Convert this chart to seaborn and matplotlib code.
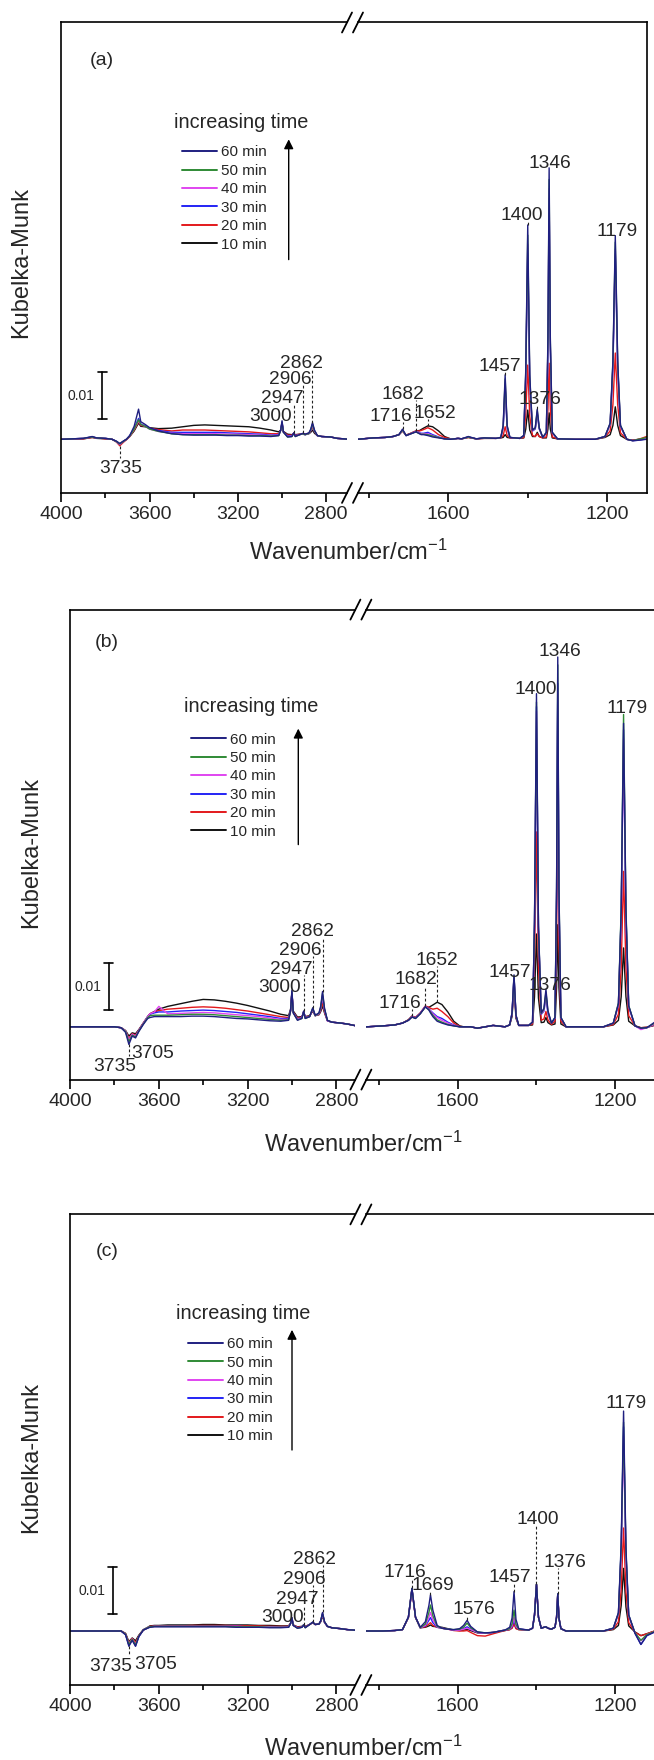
import numpy as np
import pandas as pd
import matplotlib
matplotlib.use("Agg")
import matplotlib.pyplot as plt
import seaborn as sns
from matplotlib.lines import Line2D
from matplotlib.transforms import blended_transform_factory

# ------------------------------------------------------------------ data
# wavenumber grids (cm-1) of the two displayed segments
WN_LEFT = [4000, 3900, 3860, 3840, 3800, 3770, 3750, 3735, 3720, 3705, 3690, 3670, 3650, 3640,
           3620, 3600, 3560, 3500, 3450, 3400, 3350, 3300, 3250, 3200, 3150, 3100, 3050, 3015,
           3006, 3000, 2994, 2975, 2955, 2947, 2940, 2920, 2906, 2895, 2878, 2870, 2862, 2853,
           2840, 2820, 2780, 2750, 2720, 2700]
WN_RIGHT = [1850, 1830, 1790, 1760, 1740, 1725, 1716, 1707, 1695, 1682, 1673, 1669, 1663, 1652,
            1640, 1625, 1610, 1595, 1585, 1576, 1567, 1550, 1530, 1510, 1480, 1468, 1462, 1457,
            1452, 1445, 1420, 1410, 1405, 1400, 1395, 1388, 1381, 1376, 1371, 1362, 1353, 1349,
            1346, 1343, 1338, 1325, 1280, 1230, 1205, 1192, 1185, 1179, 1173, 1166, 1150, 1135,
            1120, 1100]

TIMES = ["10 min", "20 min", "30 min", "40 min", "50 min", "60 min"]
COLORS = {"10 min": "#111111", "20 min": "#e3191c", "30 min": "#2424f5",
          "40 min": "#e045f0", "50 min": "#2f8a35", "60 min": "#1f1f80"}

KM_UNIT = 1e-4   # values below are Kubelka-Munk x 10^4

# ---- panel (a)
A_L_10 = [0, 1, 4, 2, 1, 0, -5, -10, -5, 0, 6, 18, 35, 28, 27, 25, 23, 24, 27, 30, 31, 30, 29, 28, 27, 24, 20, 16, 20, 33, 17, 11, 10, 12, 10, 11, 11, 10, 12, 15, 20, 13, 8, 6, 5, 2, 1, 0]
A_L_20 = [0, 1, 4, 3, 1, 0, -6, -14, -7, -1, 6, 20, 38, 30, 28, 24, 21, 18, 20, 20, 20, 19, 18, 17, 16, 14, 12, 12, 20, 35, 16, 9, 9, 13, 9, 11, 12, 11, 13, 18, 28, 16, 8, 6, 5, 2, 1, 0]
A_L_30 = [0, 2, 5, 3, 2, 0, -5, -11, -5, 0, 8, 24, 45, 33, 29, 24, 19, 15, 15, 15, 15, 15, 14, 13, 12, 11, 9, 10, 20, 37, 16, 7, 8, 13, 8, 10, 12, 10, 13, 19, 31, 17, 8, 6, 5, 2, 1, 0]
A_L_40 = [0, 2, 5, 3, 2, 0, -5, -11, -5, 0, 7, 22, 40, 32, 28, 22, 17, 13, 12, 12, 12, 12, 11, 11, 10, 9, 8, 9, 19, 36, 15, 6, 7, 13, 7, 10, 12, 10, 13, 19, 32, 18, 8, 6, 5, 2, 1, 0]
A_L_50 = [0, 2, 5, 3, 2, 0, -5, -10, -5, 0, 7, 22, 42, 32, 28, 22, 17, 12, 10, 10, 10, 10, 9, 9, 8, 8, 7, 8, 19, 37, 15, 5, 6, 13, 6, 10, 12, 10, 13, 20, 33, 18, 8, 6, 5, 2, 1, 0]
A_L_60 = [0, 2, 6, 3, 2, 0, -4, -9, -4, 0, 8, 28, 65, 38, 32, 25, 18, 12, 10, 9, 9, 9, 8, 8, 7, 7, 6, 8, 20, 40, 16, 5, 6, 14, 6, 10, 13, 11, 14, 22, 36, 20, 8, 6, 5, 2, 1, 0]

A_R_10 = [0, 0, 3, 4, 6, 10, 18, 9, 13, 18, 19, 21, 24, 29, 27, 18, 6, 1, 1, 2, 1, 4, 1, 2, 2, 3, 4, 10, 4, 3, 2, 3, 22, 63, 20, 6, 6, 15, 6, 3, 3, 22, 57, 22, 3, 1, 0, 0, 4, 10, 30, 70, 30, 8, 0, -2, 0, 2]
A_R_20 = [0, 0, 3, 4, 6, 10, 18, 9, 13, 18, 18, 19, 21, 25, 20, 10, 4, 1, 1, 2, 1, 4, 1, 2, 2, 3, 8, 27, 8, 3, 2, 4, 55, 160, 50, 8, 6, 12, 6, 3, 5, 65, 164, 65, 5, 1, 0, 0, 5, 18, 75, 186, 75, 14, 0, -2, 0, 6]
A_R_30 = [0, 0, 3, 4, 6, 10, 20, 8, 12, 17, 14, 13, 13, 15, 10, 5, 1, 0, 1, 2, 1, 5, 1, 3, 2, 4, 24, 112, 24, 4, 2, 8, 135, 400, 125, 18, 22, 55, 22, 4, 14, 195, 520, 195, 14, 1, 0, 0, 6, 32, 155, 400, 155, 28, 0, -3, -2, 1]
A_R_40 = [0, 0, 3, 4, 6, 10, 20, 8, 12, 17, 13, 12, 12, 12, 8, 4, 1, 0, 1, 2, 1, 5, 1, 3, 2, 4, 26, 122, 26, 4, 2, 8, 140, 420, 130, 19, 23, 58, 23, 4, 14, 200, 540, 200, 14, 1, 0, 0, 6, 32, 158, 410, 158, 28, 0, -3, -1, 2]
A_R_50 = [0, 0, 3, 4, 6, 10, 20, 8, 12, 16, 12, 11, 11, 10, 7, 4, 1, 0, 1, 2, 1, 5, 1, 3, 2, 4, 28, 130, 28, 4, 2, 8, 145, 440, 135, 20, 24, 62, 24, 4, 15, 210, 560, 210, 15, 1, 0, 0, 6, 34, 165, 425, 165, 30, 0, -3, 0, 4]
A_R_60 = [0, 0, 3, 4, 6, 10, 22, 8, 12, 16, 12, 10, 10, 8, 5, 3, 1, 0, 1, 2, 1, 6, 1, 3, 2, 4, 30, 139, 30, 4, 2, 8, 150, 462, 140, 20, 25, 65, 25, 4, 15, 220, 585, 220, 15, 1, 0, 0, 6, 35, 170, 439, 170, 30, 0, -3, -2, 0]

# ---- panel (b)
B_L_10 = [0, 0, 0, 0, 0, -2, -8, -20, -13, -15, -6, 8, 22, 28, 33, 38, 44, 50, 55, 59, 58, 55, 51, 46, 40, 34, 27, 24, 38, 73, 34, 21, 22, 31, 22, 24, 34, 24, 26, 33, 45, 30, 13, 10, 8, 6, 3, 1]
B_L_20 = [0, 0, 0, 0, 0, -2, -9, -25, -15, -18, -7, 8, 22, 28, 32, 35, 38, 40, 42, 43, 42, 40, 37, 34, 30, 26, 22, 20, 35, 74, 32, 19, 21, 32, 21, 23, 36, 24, 27, 36, 52, 32, 13, 10, 8, 6, 3, 1]
B_L_30 = [0, 0, 0, 0, 0, -2, -10, -30, -17, -21, -8, 7, 22, 27, 30, 32, 32, 34, 35, 36, 35, 33, 31, 28, 25, 22, 18, 18, 35, 75, 31, 17, 20, 33, 20, 22, 38, 24, 28, 40, 65, 36, 13, 10, 8, 6, 3, 1]
B_L_40 = [0, 0, 0, 0, 0, -2, -9, -28, -16, -20, -8, 7, 22, 28, 32, 44, 28, 29, 30, 31, 30, 28, 26, 24, 22, 19, 16, 16, 34, 75, 30, 16, 19, 33, 19, 22, 39, 24, 28, 40, 68, 36, 13, 10, 8, 6, 3, 1]
B_L_50 = [0, 0, 0, 0, 0, -2, -10, -32, -18, -22, -9, 6, 20, 24, 25, 25, 25, 26, 27, 27, 26, 24, 22, 20, 18, 16, 14, 15, 34, 76, 30, 15, 18, 33, 18, 22, 40, 24, 29, 42, 72, 38, 14, 10, 8, 6, 3, 1]
B_L_60 = [0, 0, 0, 0, 0, -2, -12, -38, -20, -24, -10, 5, 18, 20, 22, 22, 22, 22, 23, 23, 22, 20, 18, 17, 15, 13, 12, 14, 35, 79, 30, 14, 18, 34, 18, 22, 41, 25, 30, 45, 76, 40, 14, 10, 8, 6, 3, 1]

B_R_10 = [0, 0, 2, 4, 8, 15, 23, 20, 29, 43, 42, 44, 47, 53, 48, 32, 12, 2, 0, 0, 0, -3, 0, 3, 0, 4, 22, 85, 18, 3, 3, 4, 65, 200, 62, 9, 10, 20, 9, 4, 6, 85, 220, 85, 6, 0, 0, 0, 4, 14, 65, 170, 65, 12, 2, -2, -1, 3]
B_R_20 = [0, 0, 2, 4, 8, 15, 23, 20, 30, 45, 42, 40, 38, 40, 33, 22, 8, 1, 0, 0, 0, -3, 0, 3, 0, 4, 27, 100, 22, 3, 3, 6, 140, 420, 130, 14, 17, 33, 15, 5, 12, 180, 480, 180, 12, 0, 0, 0, 5, 27, 128, 335, 128, 24, 2, -2, -1, 4]
B_R_30 = [0, 0, 2, 4, 8, 14, 22, 19, 29, 44, 39, 35, 30, 22, 18, 10, 4, 0, 0, 0, 0, -3, 0, 3, 0, 4, 29, 108, 24, 3, 3, 10, 220, 690, 212, 27, 34, 65, 29, 8, 19, 280, 740, 280, 19, 0, 0, 0, 8, 48, 245, 640, 245, 44, 2, -4, -2, 6]
B_R_40 = [0, 0, 2, 4, 8, 14, 22, 19, 29, 44, 38, 34, 28, 20, 14, 8, 3, 0, 0, 0, 0, -3, 0, 3, 0, 4, 29, 108, 24, 3, 3, 10, 218, 680, 210, 28, 36, 70, 31, 8, 19, 275, 720, 275, 19, 0, 0, 0, 8, 48, 240, 620, 240, 43, 2, -6, -2, 6]
B_R_50 = [0, 0, 2, 4, 8, 14, 21, 18, 28, 43, 37, 32, 25, 15, 10, 5, 2, 0, 0, 0, 0, -3, 0, 3, 0, 4, 29, 110, 25, 3, 3, 10, 225, 700, 215, 29, 38, 75, 33, 8, 20, 295, 780, 295, 20, 0, 0, 0, 8, 52, 258, 673, 258, 46, 2, -3, -2, 8]
B_R_60 = [0, 0, 2, 4, 8, 14, 21, 18, 28, 43, 36, 30, 22, 12, 8, 4, 2, 0, 0, 0, 0, -3, 0, 3, 0, 4, 30, 112, 25, 3, 3, 10, 230, 718, 220, 30, 40, 81, 35, 8, 20, 300, 797, 300, 20, 0, 0, 0, 8, 50, 250, 654, 250, 45, 2, -3, -2, 10]

# ---- panel (c)
C_L_10 = [0, 0, 0, 0, 0, 0, -5, -23, -15, -21, -9, 3, 8, 11, 12, 12, 13, 13, 13, 14, 14, 13, 13, 13, 12, 12, 11, 11, 17, 27, 13, 9, 10, 13, 10, 14, 18, 14, 15, 20, 33, 18, 10, 7, 5, 3, 2, 0]
C_L_20 = [0, 0, 0, 0, 0, 0, -6, -26, -16, -25, -10, 2, 7, 10, 11, 11, 11, 11, 12, 12, 12, 12, 11, 11, 11, 10, 10, 10, 17, 28, 13, 8, 9, 13, 9, 14, 18, 14, 15, 21, 35, 19, 10, 7, 5, 3, 2, 0]
C_L_30 = [0, 0, 0, 0, 0, 0, -8, -31, -19, -32, -12, 2, 7, 9, 10, 10, 10, 10, 10, 10, 10, 10, 10, 9, 9, 9, 8, 9, 16, 28, 12, 7, 8, 13, 8, 14, 19, 14, 15, 22, 37, 19, 10, 7, 5, 3, 2, 0]
C_L_40 = [0, 0, 0, 0, 0, 0, -7, -28, -17, -29, -11, 2, 7, 9, 10, 10, 10, 10, 10, 10, 10, 10, 10, 9, 9, 9, 8, 9, 16, 28, 12, 7, 8, 13, 8, 14, 19, 14, 15, 22, 37, 19, 10, 7, 5, 3, 2, 0]
C_L_50 = [0, 0, 0, 0, 0, 0, -7, -29, -18, -30, -11, 2, 7, 9, 10, 10, 10, 10, 10, 10, 10, 10, 9, 9, 9, 8, 8, 8, 16, 28, 12, 6, 8, 13, 7, 14, 19, 14, 15, 22, 38, 20, 10, 7, 5, 3, 2, 0]
C_L_60 = [0, 0, 0, 0, 0, 0, -8, -33, -20, -33, -12, 2, 6, 8, 9, 9, 9, 9, 9, 9, 9, 9, 8, 8, 8, 7, 7, 8, 16, 29, 12, 6, 8, 13, 7, 14, 19, 14, 15, 22, 40, 20, 10, 7, 5, 3, 2, 0]

C_R_10 = [0, 0, 0, 1, 3, 29, 90, 29, 7, 8, 11, 13, 10, 9, 8, 5, 2, 1, 2, 4, 1, -4, -5, -3, 1, 3, 7, 18, 6, 3, 2, 6, 34, 100, 30, 6, 8, 9, 6, 4, 8, 30, 78, 28, 5, 0, 0, 0, 3, 12, 55, 135, 52, 11, -2, -10, -6, 0]
C_R_20 = [0, 0, 0, 1, 3, 29, 90, 29, 7, 9, 15, 18, 12, 8, 6, 4, 1, 0, 0, 1, -3, -10, -11, -6, 1, 3, 6, 15, 5, 3, 2, 6, 34, 100, 30, 6, 8, 9, 6, 4, 8, 30, 79, 28, 5, 0, 0, 0, 4, 20, 90, 222, 85, 18, -3, -10, -6, 0]
C_R_30 = [0, 0, 0, 1, 3, 30, 91, 30, 7, 11, 23, 29, 18, 8, 6, 4, 2, 3, 5, 9, 4, -3, -5, -3, 2, 4, 9, 25, 9, 4, 2, 6, 35, 100, 30, 6, 8, 9, 6, 4, 8, 30, 80, 28, 5, 0, 0, 0, 6, 38, 178, 440, 170, 34, -5, -29, -10, -2]
C_R_40 = [0, 0, 0, 1, 3, 30, 90, 30, 7, 12, 30, 40, 24, 9, 6, 4, 2, 2, 4, 6, 3, -3, -5, -3, 2, 4, 11, 30, 10, 4, 2, 6, 35, 100, 30, 6, 8, 9, 6, 4, 8, 30, 79, 28, 5, 0, 0, 0, 6, 36, 170, 420, 162, 32, -4, -21, -8, -1]
C_R_50 = [0, 0, 0, 1, 3, 30, 92, 30, 7, 15, 40, 56, 33, 10, 6, 4, 3, 4, 8, 17, 7, -2, -4, -3, 2, 5, 15, 45, 14, 4, 2, 6, 35, 101, 30, 6, 8, 9, 6, 4, 8, 30, 80, 28, 5, 0, 0, 0, 6, 38, 180, 450, 172, 34, -4, -20, -8, -1]
C_R_60 = [0, 0, 0, 1, 3, 30, 92, 30, 8, 20, 55, 78, 45, 12, 6, 4, 3, 5, 12, 23, 10, -2, -4, -3, 2, 8, 28, 85, 25, 5, 2, 6, 35, 101, 30, 6, 8, 9, 6, 4, 8, 30, 80, 28, 5, 0, 0, 0, 6, 40, 190, 474, 180, 35, -5, -29, -10, -2]

SERIES = {
    "a": {"L": [A_L_10, A_L_20, A_L_30, A_L_40, A_L_50, A_L_60],
          "R": [A_R_10, A_R_20, A_R_30, A_R_40, A_R_50, A_R_60]},
    "b": {"L": [B_L_10, B_L_20, B_L_30, B_L_40, B_L_50, B_L_60],
          "R": [B_R_10, B_R_20, B_R_30, B_R_40, B_R_50, B_R_60]},
    "c": {"L": [C_L_10, C_L_20, C_L_30, C_L_40, C_L_50, C_L_60],
          "R": [C_R_10, C_R_20, C_R_30, C_R_40, C_R_50, C_R_60]},
}

# peak labels: text, wavenumber of marker line, label centre (px), direction
ANN = {
    "a": [("3735", 3735, 120.2, 466.0, "down"), ("3000", 3000, 270.3, 414.3, "up"),
          ("2947", 2947, 282.4, 395.7, "up"), ("2906", 2906, 290.4, 376.8, "up"),
          ("2862", 2862, 301.6, 360.7, "up"), ("1716", 1716, 391.3, 414.3, "up"),
          ("1682", 1682, 403.0, 392.1, "up"), ("1652", 1652, 434.7, 411.4, "up"),
          ("1457", 1457, 499.8, 363.6, "up"), ("1400", 1400, 521.5, 213.2, "up"),
          ("1376", 1376, 539.8, 397.1, "up"), ("1346", 1346, 549.9, 161.4, "up"),
          ("1179", 1179, 617.4, 228.6, "up")],
    "b": [("3735", 3735, 114.7, 1064.3, "down"), ("3705", 3705, 152.3, 1050.7, "none"),
          ("3000", 3000, 279.5, 984.6, "up"), ("2947", 2947, 291.2, 966.8, "up"),
          ("2906", 2906, 300.4, 948.2, "up"), ("2862", 2862, 312.9, 929.3, "up"),
          ("1716", 1716, 399.7, 1000.7, "up"), ("1682", 1682, 416.0, 977.5, "up"),
          ("1652", 1652, 437.2, 958.2, "up"), ("1457", 1457, 509.8, 970.4, "up"),
          ("1376", 1376, 549.9, 982.9, "up"), ("1400", 1400, 536.0, 686.8, "up"),
          ("1346", 1346, 559.9, 648.9, "up"), ("1179", 1179, 626.6, 706.4, "up")],
    "c": [("3735", 3735, 110.6, 1664.0, "down"), ("3705", 3705, 155.2, 1661.7, "none"),
          ("3000", 3000, 282.9, 1614.7, "up"), ("2947", 2947, 297.5, 1597.3, "up"),
          ("2906", 2906, 304.5, 1576.6, "up"), ("2862", 2862, 315.0, 1557.4, "up"),
          ("1716", 1716, 404.7, 1570.3, "up"), ("1669", 1669, 433.0, 1582.5, "up"),
          ("1576", 1576, 473.5, 1607.3, "up"), ("1457", 1457, 509.8, 1575.0, "up"),
          ("1400", 1400, 538.0, 1517.4, "up"), ("1376", 1346, 565.0, 1560.3, "up"),
          ("1179", 1179, 625.8, 1400.9, "up")],
}

# ------------------------------------------------------------------ layout (pixels)
W, H, DPI = 654, 1760, 100
PX01 = 46.4  # pixels per 0.01 Kubelka-Munk

LAYOUT = [
    dict(key="a", tag="(a)", x0=61.3, xb=352.5, x1=646.6, top=22.5, bot=492.9, base=439.3,
         xlimL=(4000, 2705.7), xlimR=(1828.4, 1100),
         tagpos=(102, 60.7), itpos=(241, 122), arrow=(288.7, 259.6, 139.3),
         leg=(181.5, 145.5), ylab=(20.9, 262), xlab=(348.3, 552),
         bar=(102, 418.6), bartxt=(81, 396)),
    dict(key="b", tag="(b)", x0=70.1, xb=360.9, x1=654.7, top=609.6, bot=1079.6, base=1026.8,
         xlimL=(4000, 2713.8), xlimR=(1831.6, 1100),
         tagpos=(107, 642.9), itpos=(251, 706), arrow=(298.3, 844.6, 728.6),
         leg=(191.0, 732.6), ylab=(31.3, 852.7), xlab=(363, 1144.6),
         bar=(108.5, 1009.6), bartxt=(87.6, 986.8)),
    dict(key="c", tag="(c)", x0=70.1, xb=360.9, x1=654.7, top=1214.4, bot=1685.0, base=1631.0,
         xlimL=(4000, 2713.8), xlimR=(1831.6, 1100),
         tagpos=(107.6, 1251), itpos=(243, 1313.2), arrow=(292, 1450, 1329.8),
         leg=(187.7, 1337.2), ylab=(31.3, 1457.5), xlab=(363, 1748),
         bar=(112.6, 1613.6), bartxt=(91.8, 1590.7)),
]

# ------------------------------------------------------------------ style
sns.set_style("white")
plt.rcParams["font.family"] = ["Liberation Sans", "DejaVu Sans"]
plt.rcParams["mathtext.default"] = "regular"
plt.rcParams["axes.linewidth"] = 1.2

fig = plt.figure(figsize=(W / DPI, H / DPI), dpi=DPI)
fig.patch.set_facecolor("white")


def fx(x):
    return x / W


def fy(y):
    return 1 - y / H


GAP = 5.5
for P in LAYOUT:
    key = P["key"]
    ylo = -(P["bot"] - P["base"]) / PX01 * 0.01
    yhi = (P["base"] - P["top"]) / PX01 * 0.01
    hfrac = (P["bot"] - P["top"]) / H
    axL = fig.add_axes([fx(P["x0"]), fy(P["bot"]), (P["xb"] - GAP - P["x0"]) / W, hfrac])
    axR = fig.add_axes([fx(P["xb"] + GAP), fy(P["bot"]), (P["x1"] - P["xb"] - GAP) / W, hfrac])

    for ax, wn, side, xlim in ((axL, WN_LEFT, "L", P["xlimL"]), (axR, WN_RIGHT, "R", P["xlimR"])):
        frames = []
        for t, vals in zip(TIMES, SERIES[key][side]):
            frames.append(pd.DataFrame({"wavenumber": wn,
                                        "km": np.array(vals, dtype=float) * KM_UNIT,
                                        "time": t}))
        df = pd.concat(frames, ignore_index=True)
        sns.lineplot(data=df, x="wavenumber", y="km", hue="time", hue_order=TIMES,
                     palette=COLORS, estimator=None, sort=False, legend=False,
                     linewidth=1.0, ax=ax)
        ax.set_xlim(*xlim)
        ax.set_ylim(ylo, yhi)
        ax.set_xlabel("")
        ax.set_ylabel("")
        ax.set_yticks([])
        ax.set_facecolor("white")
        for s in ax.spines.values():
            s.set_color("black")
            s.set_linewidth(1.2)
        ax.tick_params(axis="x", which="major", direction="out", length=6.5, width=1.2,
                       labelsize=14, pad=3, bottom=True, top=False, color="black")
        ax.tick_params(axis="x", which="minor", direction="out", length=3.3, width=1.2,
                       bottom=True, top=False, color="black")

    axL.spines["right"].set_visible(False)
    axR.spines["left"].set_visible(False)
    axL.set_xticks([4000, 3600, 3200, 2800])
    axL.set_xticks([3800, 3400, 3000], minor=True)
    axR.set_xticks([1600, 1200])
    axR.set_xticks([1800, 1400], minor=True)

    # axis-break marks
    for yb in (P["top"], P["bot"]):
        for cx in (P["xb"] - GAP, P["xb"] + GAP):
            fig.add_artist(Line2D([fx(cx - 5), fx(cx + 5)], [fy(yb + 10), fy(yb - 10)],
                                  transform=fig.transFigure, color="black", lw=1.3))

    # peak labels and dashed markers
    def py2data(py):
        return yhi - (py - P["top"]) / (P["bot"] - P["top"]) * (yhi - ylo)

    for text, w, lx, ly, direction in ANN[key]:
        fig.text(fx(lx), fy(ly + 7), text, ha="center", va="baseline", fontsize=13.8)
        if direction == "none":
            continue
        if w > 2000:
            ax, wn, side = axL, WN_LEFT, "L"
        else:
            ax, wn, side = axR, WN_RIGHT, "R"
        i = wn.index(w)
        vals = [s[i] * KM_UNIT for s in SERIES[key][side]]
        if direction == "up":
            y_peak = max(vals)
            y_lab = py2data(ly + 8)
            if y_lab - y_peak > 0.0006:
                ax.plot([w, w], [y_peak, y_lab], color="#222222", lw=0.8,
                        linestyle=(0, (2.5, 2)))
        else:
            y_peak = min(vals)
            y_lab = py2data(ly - 8)
            if y_peak - y_lab > 0.0003:
                ax.plot([w, w], [y_peak, y_lab], color="#222222", lw=0.8,
                        linestyle=(0, (2.5, 2)))

    # scale bar (0.01 KM)
    bx, bbot = P["bar"]
    trans = blended_transform_factory(fig.transFigure, axL.transData)
    y0 = (P["base"] - bbot) / PX01 * 0.01
    axL.plot([fx(bx), fx(bx)], [y0, y0 + 0.01], color="black", lw=1.2, transform=trans,
             clip_on=False)
    for yy in (y0, y0 + 0.01):
        axL.plot([fx(bx - 4.5), fx(bx + 4.5)], [yy, yy], color="black", lw=1.2,
                 transform=trans, clip_on=False)
    fig.text(fx(P["bartxt"][0]), fy(P["bartxt"][1]), "0.01", ha="center", va="center",
             fontsize=10)

    # panel tag, legend, arrow
    fig.text(fx(P["tagpos"][0]), fy(P["tagpos"][1]), P["tag"], ha="center", va="center",
             fontsize=14)
    fig.text(fx(P["itpos"][0]), fy(P["itpos"][1]), "increasing time", ha="center",
             va="center", fontsize=14.3)
    handles = [Line2D([], [], color=COLORS[t], lw=1.4) for t in reversed(TIMES)]
    axL.legend(handles, list(reversed(TIMES)), loc="upper left",
               bbox_to_anchor=(fx(P["leg"][0]), fy(P["leg"][1])),
               bbox_transform=fig.transFigure, frameon=False, fontsize=11,
               handlelength=2.3, handletextpad=0.26, labelspacing=0.29,
               borderpad=0, borderaxespad=0)
    axx, ay0, ay1 = P["arrow"]
    fig.add_artist(matplotlib.patches.FancyArrowPatch(
        (fx(axx), fy(ay0)), (fx(axx), fy(ay1)), transform=fig.transFigure,
        arrowstyle="-|>", mutation_scale=14, lw=1.0, color="black",
        shrinkA=0, shrinkB=0))

    # axis titles
    fig.text(fx(P["ylab"][0]), fy(P["ylab"][1]), "Kubelka-Munk", rotation=90,
             ha="center", va="center", fontsize=17)
    fig.text(fx(P["xlab"][0]), fy(P["xlab"][1]), r"Wavenumber/cm$^{-1}$",
             ha="center", va="center", fontsize=17)

fig.savefig("out.png", dpi=DPI, facecolor="white")
